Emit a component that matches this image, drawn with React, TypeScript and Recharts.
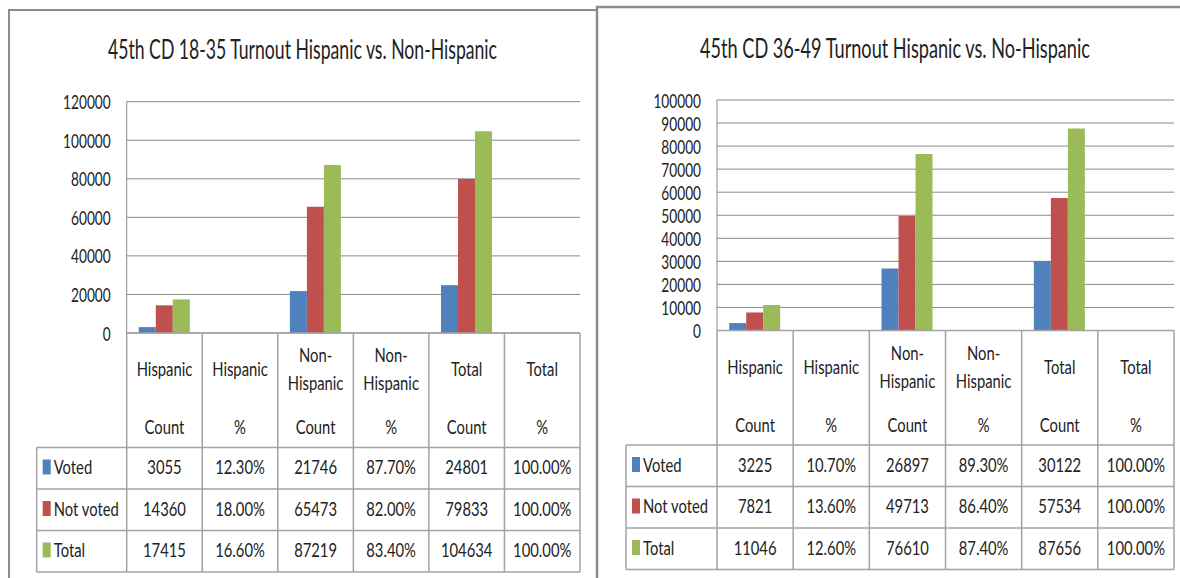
import { Bar, BarChart, CartesianGrid, XAxis, YAxis } from "recharts";

const categories = [
  "Hispanic Count",
  "Hispanic %",
  "Non-Hispanic Count",
  "Non-Hispanic %",
  "Total Count",
  "Total %",
];
const seriesNames = ["Voted", "Not voted", "Total"];
const seriesKeys = ["voted", "notVoted", "total"];
const colors = ["#4F81BD", "#C0504D", "#9BBB59"];

// 18-35
const youngVoted = [3055, 0.123, 21746, 0.877, 24801, 1];
const youngNotVoted = [14360, 0.18, 65473, 0.82, 79833, 1];
const youngTotal = [17415, 0.166, 87219, 0.834, 104634, 1];
const youngTicks = [0, 20000, 40000, 60000, 80000, 100000, 120000];

// 36-49
const midVoted = [3225, 0.107, 26897, 0.893, 30122, 1];
const midNotVoted = [7821, 0.136, 49713, 0.864, 57534, 1];
const midTotal = [11046, 0.126, 76610, 0.874, 87656, 1];
const midTicks = [0, 10000, 20000, 30000, 40000, 50000, 60000, 70000, 80000, 90000, 100000];

const build = (v: number[], n: number[], t: number[]) =>
  categories.map((cat, i) => ({ cat, voted: v[i], notVoted: n[i], total: t[i] }));

const FONT = "Lato, 'Open Sans', sans-serif";
const GRID = "#8a8a8a";
const TABLE = "#a3a3a3";
const INK = "#222";

// narrow text: the source is squeezed sideways, so scale glyphs horizontally
function NText({ x, y, anchor = "middle", size = 20, sx = 0.74, len, children }: any) {
  return (
    <g transform={`translate(${x},${y}) scale(${sx},1)`}>
      <text
        x={0}
        y={0}
        textAnchor={anchor}
        fontFamily={FONT}
        fontSize={size}
        fill={INK}
        textLength={len ? len / sx : undefined}
        lengthAdjust={len ? "spacingAndGlyphs" : undefined}
      >
        {children}
      </text>
    </g>
  );
}

const fmt = (cat: string, v: number) => (cat.endsWith("%") ? (v * 100).toFixed(2) + "%" : String(v));

type Layout = {
  left: number;
  width: number;
  plotLeft: number;
  plotRight: number;
  plotTop: number;
  plotBottom: number;
  tableLeft: number;
};

function TurnoutChart({ L, data, ticks }: { L: Layout; data: any[]; ticks: number[] }) {
  const yw = 100;
  const H = 578;
  const margin = { top: L.plotTop, right: L.left + L.width - L.plotRight, left: L.plotLeft - L.left - yw, bottom: 0 };
  const n = data.length;
  const bw = (L.plotRight - L.plotLeft) / n;
  const tl = L.tableLeft - L.left;

  const xTick = (p: any) => {
    const { x, y, index } = p;
    const cat: string = data[index].cat;
    const x0 = x - bw / 2;
    const rowTop = y + 114.5;
    const rowH = 41.5;
    const bottom = rowTop + 3 * rowH;
    const words = cat.split(" ");
    const lines = words[0].includes("-")
      ? [words[0].split("-")[0] + "-", words[0].split("-")[1], words[1]]
      : words;
    const offs = lines.length === 3 ? [29, 57, 101] : [43, 101];
    return (
      <g>
        {index === 0 && (
          <g>
            {[0, 1, 2, 3].map((k) => (
              <line key={k} x1={tl} x2={x0 + n * bw} y1={rowTop + k * rowH} y2={rowTop + k * rowH} stroke={TABLE} strokeWidth={1.5} />
            ))}
            <line x1={tl} x2={tl} y1={rowTop} y2={bottom} stroke={TABLE} strokeWidth={1.5} />
            {seriesNames.map((s, k) => (
              <g key={s}>
                <rect x={tl + 6} y={rowTop + k * rowH + 12} width={8} height={15} fill={colors[k]} />
                <NText x={tl + 17} y={rowTop + k * rowH + 26.5} anchor="start">
                  {s}
                </NText>
              </g>
            ))}
          </g>
        )}
        <line x1={x0} x2={x0} y1={y} y2={bottom} stroke={TABLE} strokeWidth={1.5} />
        {index === n - 1 && <line x1={x0 + bw} x2={x0 + bw} y1={y} y2={bottom} stroke={TABLE} strokeWidth={1.5} />}
        {lines.map((t, k) => (
          <NText key={k} x={x} y={y + offs[k]}>
            {t}
          </NText>
        ))}
        {seriesKeys.map((key, k) => (
          <NText key={key} x={x} y={rowTop + k * rowH + 26.5}>
            {fmt(cat, data[index][key])}
          </NText>
        ))}
      </g>
    );
  };

  const yTick = (p: any) => (
    <NText x={p.x} y={p.y + 7.5} anchor="end" size={18.5}>
      {p.payload.value}
    </NText>
  );

  return (
    <div style={{ position: "absolute", left: L.left, top: 0 }}>
      <BarChart width={L.width} height={H} data={data} margin={margin} barCategoryGap="16%" barGap={0}>
        <CartesianGrid vertical={false} stroke={GRID} />
        <XAxis
          dataKey="cat"
          interval={0}
          height={H - L.plotBottom}
          tickLine={false}
          tickSize={0}
          tickMargin={0}
          axisLine={{ stroke: TABLE, strokeWidth: 1.5 }}
          tick={xTick}
        />
        <YAxis
          type="number"
          domain={[0, ticks[ticks.length - 1]]}
          ticks={ticks}
          interval={0}
          width={yw}
          tickLine={false}
          tickSize={0}
          tickMargin={16}
          axisLine={{ stroke: GRID }}
          tick={yTick}
        />
        {seriesKeys.map((key, k) => (
          <Bar key={key} dataKey={key} name={seriesNames[k]} fill={colors[k]} isAnimationActive={false} />
        ))}
      </BarChart>
    </div>
  );
}

export default function App() {
  const youngData = build(youngVoted, youngNotVoted, youngTotal);
  const midData = build(midVoted, midNotVoted, midTotal);
  return (
    <div style={{ position: "absolute", left: 0, top: 0, width: 1180, height: 578, background: "#fff", overflow: "hidden" }}>
      <TurnoutChart
        L={{ left: 0, width: 597, plotLeft: 126.7, plotRight: 580, plotTop: 101.7, plotBottom: 333, tableLeft: 36.7 }}
        data={youngData}
        ticks={youngTicks}
      />
      <TurnoutChart
        L={{ left: 597, width: 583, plotLeft: 717, plotRight: 1174, plotTop: 100, plotBottom: 330.5, tableLeft: 626 }}
        data={midData}
        ticks={midTicks}
      />
      <svg width={1180} height={578} style={{ position: "absolute", left: 0, top: 0, pointerEvents: "none" }}>
        <path d="M9,578 L9,10 L597,10" fill="none" stroke="#8c8c8c" strokeWidth={2} />
        <path d="M597,578 L597,7 L1180,7" fill="none" stroke="#8c8c8c" strokeWidth={2.5} />
        <NText x={302.5} y={59} size={27} sx={0.62} len={389}>
          45th CD 18-35 Turnout Hispanic vs. Non-Hispanic
        </NText>
        <NText x={895} y={58} size={27} sx={0.62} len={390}>
          45th CD 36-49 Turnout Hispanic vs. No-Hispanic
        </NText>
      </svg>
    </div>
  );
}
